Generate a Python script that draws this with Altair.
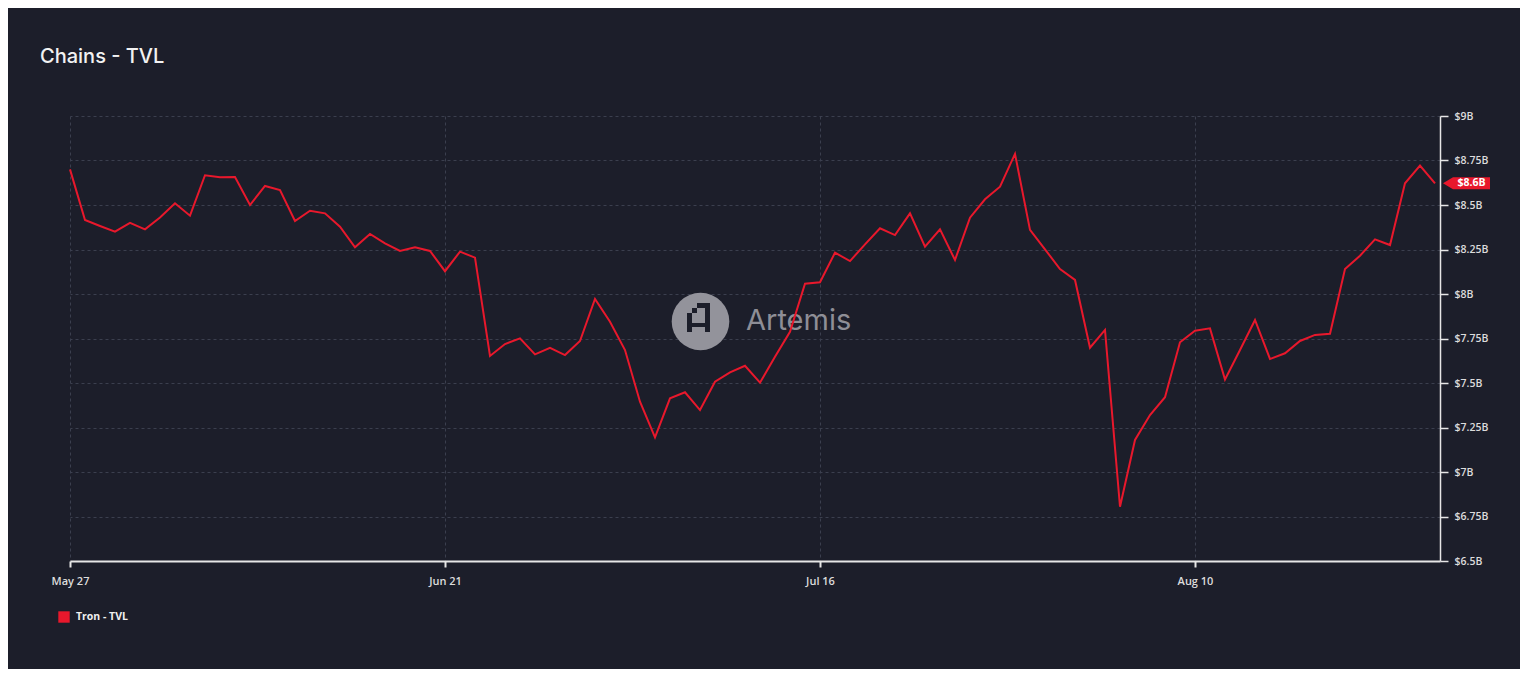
import altair as alt
import pandas as pd

# ---- data -------------------------------------------------------------
start_date = "2024-05-27"
tvl_billions = [
    8.70, 8.416, 8.382, 8.35, 8.40, 8.363, 8.43, 8.51, 8.44, 8.667,
    8.656, 8.657, 8.50, 8.607, 8.584, 8.41, 8.468, 8.453, 8.378, 8.262,
    8.337, 8.285, 8.242, 8.262, 8.242, 8.128, 8.238, 8.204, 7.652, 7.719,
    7.751, 7.661, 7.698, 7.657, 7.736, 7.972, 7.844, 7.685, 7.395, 7.195,
    7.414, 7.448, 7.348, 7.507, 7.56, 7.597, 7.502, 7.648, 7.788, 8.058,
    8.066, 8.232, 8.185, 8.279, 8.369, 8.331, 8.453, 8.266, 8.363, 8.191,
    8.429, 8.532, 8.603, 8.787, 8.36, 8.251, 8.14, 8.079, 7.698, 7.798,
    6.805, 7.18, 7.32, 7.42, 7.729, 7.794, 7.807, 7.52, 7.685, 7.854,
    7.635, 7.667, 7.736, 7.77, 7.777, 8.14, 8.215, 8.307, 8.275, 8.622,
    8.721, 8.622,
]
series_name = "Tron - TVL"
x_tick_dates = [(2024, 5, 27), (2024, 6, 21), (2024, 7, 16), (2024, 8, 10)]
y_ticks = [6.5, 6.75, 7.0, 7.25, 7.5, 7.75, 8.0, 8.25, 8.5, 8.75, 9.0]
last_label = "$8.6B"
title_text = "Chains - TVL"
watermark_text = "Artemis"

dates = pd.date_range(start_date, periods=len(tvl_billions), freq="D")
df = pd.DataFrame({"date": dates, "tvl": tvl_billions, "series": series_name})
last_df = df.tail(1).assign(label=last_label)

BG = "#1c1e2a"
RED = "#e8182c"
GRID = "#3b3f4e"
AXIS = "#e6e6e6"
LABEL = "#dcdcdc"

x_scale = alt.Scale(
    domain=[alt.DateTime(year=2024, month=5, date=27),
            alt.DateTime(year=2024, month=8, date=26, hours=8)]
)
y_scale = alt.Scale(domain=[6.5, 9.0], nice=False, zero=False)

x_axis = alt.Axis(
    values=[alt.DateTime(year=y, month=m, date=d) for y, m, d in x_tick_dates],
    format="%b %d", labelAngle=0, title=None, labelFlush=False,
    grid=True, gridDash=[3, 3], gridColor=GRID, gridWidth=1,
    domainColor=AXIS, domainWidth=2, tickColor=AXIS, tickWidth=2, tickSize=6,
    labelColor=LABEL, labelFont="Open Sans", labelFontSize=11,
    labelFontWeight=600, labelPadding=8,
)
y_axis = alt.Axis(
    orient="right", values=y_ticks,
    labelExpr="'$' + format(datum.value, '.4~g') + 'B'", title=None,
    grid=True, gridDash=[3, 3], gridColor=GRID, gridWidth=1,
    domainColor=AXIS, domainWidth=1.5, tickColor=AXIS, tickWidth=1.5, tickSize=8,
    labelColor=LABEL, labelFont="Open Sans", labelFontSize=10.5,
    labelFontWeight=600, labelPadding=6, labelFlush=False,
)

# ---- watermark -------------------------------------------------------
one = pd.DataFrame({"k": [0]})
wm_circle = alt.Chart(one).mark_circle(color="#93939b", opacity=1, size=3320).encode(
    x=alt.value(630.5), y=alt.value(205.5)
)
glyph = pd.DataFrame({
    "x1": [617, 622, 627, 635, 617],
    "x2": [622, 627, 640, 640, 640],
    "y1": [197, 192, 187, 187, 207],
    "y2": [216, 197, 192, 216, 211],
})
wm_glyph = alt.Chart(glyph).mark_rect(color=BG).encode(
    x=alt.X("x1:Q", scale=None), x2="x2:Q",
    y=alt.Y("y1:Q", scale=None), y2="y2:Q",
)
wm_text = alt.Chart(one).mark_text(
    text=watermark_text, font="Inter", fontSize=29, fontWeight=400,
    color="#8e8e96", align="left", baseline="middle",
).encode(x=alt.value(676), y=alt.value(205))

# ---- main line -------------------------------------------------------
line = alt.Chart(df).mark_line(strokeWidth=2, clip=False).encode(
    x=alt.X("date:T", scale=x_scale, axis=x_axis),
    y=alt.Y("tvl:Q", scale=y_scale, axis=y_axis),
    color=alt.Color(
        "series:N",
        scale=alt.Scale(domain=[series_name], range=[RED]),
        legend=alt.Legend(
            title=None, orient="none", legendX=-12, legendY=495,
            symbolType="square", symbolSize=130, symbolStrokeWidth=0,
            symbolFillColor=RED, symbolOpacity=1,
            labelColor="#f0f0f0", labelFont="Open Sans", labelFontSize=10.5,
            labelFontWeight=700, labelOffset=6, padding=0,
        ),
    ),
)

# ---- last value badge ------------------------------------------------
badge_path = "M-1,0L-0.575,-0.255L1,-0.255L1,0.255L-0.575,0.255Z"
badge = alt.Chart(last_df).mark_point(
    shape=badge_path, filled=True, color=RED, opacity=1, size=2209, strokeWidth=0
).encode(x=alt.value(1396.5), y=alt.Y("tvl:Q", scale=y_scale))
badge_text = alt.Chart(last_df).mark_text(
    font="Open Sans", fontSize=10.5, fontWeight=700, color="white",
    align="center", baseline="middle",
).encode(x=alt.value(1401.5), y=alt.Y("tvl:Q", scale=y_scale), text="label:N")

# ---- title -----------------------------------------------------------
title = alt.Chart(one).mark_text(
    text=title_text, font="Inter", fontSize=20, fontWeight=500,
    color="#f2f2f2", align="left", baseline="middle",
).encode(x=alt.value(-30), y=alt.value(-59))

chart = alt.layer(
    wm_circle, wm_glyph, wm_text, line, badge, badge_text, title
).resolve_scale(x="shared", y="shared").properties(
    width=1370, height=445,
    background=BG,
    autosize=alt.AutoSizeParams(type="none"),
    padding={"left": 62, "top": 108, "right": 80, "bottom": 108},
).configure_view(stroke=None)

chart.save("out.html", embed_options={"renderer": "svg", "actions": False})
